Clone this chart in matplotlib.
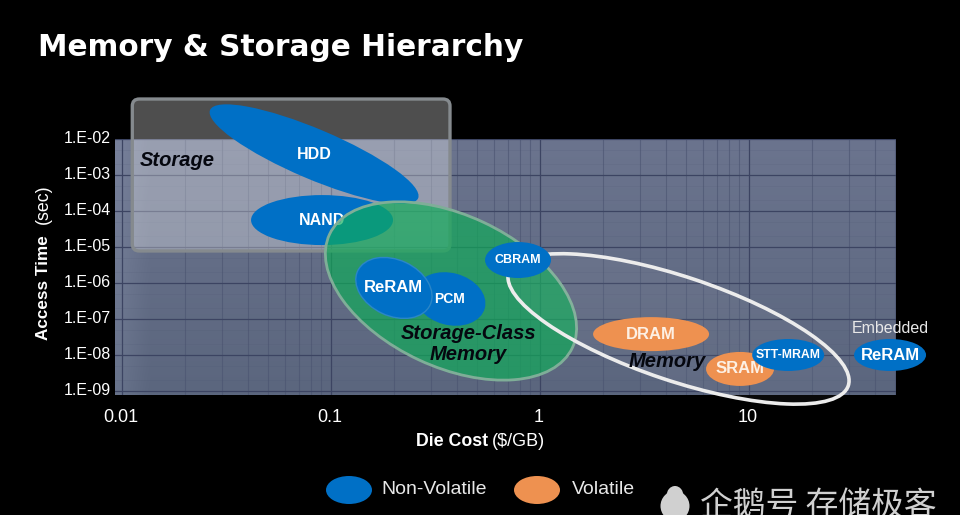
#!/usr/bin/env python3
"""Memory & storage hierarchy: access time vs. die cost, log-log bubbles."""
import numpy as np
import matplotlib
matplotlib.use("Agg")
import matplotlib.pyplot as plt
from matplotlib.patches import Ellipse, FancyBboxPatch
from matplotlib.ticker import LogLocator, NullFormatter
from matplotlib.transforms import IdentityTransform, ScaledTranslation

W, H = 960, 515
SANS = ["Liberation Sans", "DejaVu Sans"]
BLUE = "#0070c6"
ORANGE = "#ee9150"

x_ticks = [0.01, 0.1, 1, 10]
x_tick_labels = ["0.01", "0.1", "1", "10"]
y_ticks = [1e-2, 1e-3, 1e-4, 1e-5, 1e-6, 1e-7, 1e-8, 1e-9]
y_tick_labels = ["1.E-02", "1.E-03", "1.E-04", "1.E-05", "1.E-06", "1.E-07", "1.E-08", "1.E-09"]

# technologies: die cost ($/GB), access time (s)
nonvolatile = ["HDD", "NAND", "ReRAM", "PCM", "CBRAM", "STT-MRAM", "ReRAM"]
nonvolatile_cost = [0.083, 0.0906, 0.2, 0.371, 0.785, 15.4, 47.3]
nonvolatile_time = [3.8e-3, 5.6e-5, 7.3e-7, 3.6e-7, 4.35e-6, 1e-8, 1e-8]
volatile = ["DRAM", "SRAM"]
volatile_cost = [3.4, 9.06]
volatile_time = [3.8e-8, 4.1e-9]

# class regions
scm_cost, scm_time = 0.375, 6e-7
memory_cost, memory_time = 4.6, 5.3e-8
storage_cost = [0.0112, 0.371]
storage_time = [7.76e-6, 0.129]

# bubble shapes in pixels: half length, half height, tilt downwards (deg)
SHAPES = {"HDD": (113, 25, 23), "NAND": (71, 25, 0), "ReRAM": (40, 28, 25),
          "PCM": (36, 26, 15), "CBRAM": (33, 18, 0), "STT-MRAM": (36, 16, 0),
          "DRAM": (58, 17, 0), "SRAM": (34, 17, 0)}
EMBEDDED_SHAPE = (36, 16, 0)
LABEL_SIZE = {"HDD": 11.5, "NAND": 11.5, "ReRAM": 12, "PCM": 10, "CBRAM": 9,
              "STT-MRAM": 8.8, "DRAM": 12, "SRAM": 12}


def bubble(ax, cost, time, shape, zorder, **style):
    x, y = ax.transData.transform((cost, time))
    a, b, tilt = shape
    patch = Ellipse((x, y), 2 * a, 2 * b, angle=-tilt, transform=IdentityTransform(),
                    clip_on=False, zorder=zorder, **style)
    ax.add_patch(patch)
    return patch


def ftext(fig, x, y, s, **kw):
    kw.setdefault("family", SANS)
    kw.setdefault("color", "white")
    return fig.text(x / W, 1 - y / H, s, **kw)


def main():
    fig = plt.figure(figsize=(W / 100, H / 100), dpi=100, facecolor="black")
    ax = fig.add_axes([115 / W, 1 - 395 / H, (896 - 115) / W, (395 - 139) / H])
    ax.set_xscale("log")
    ax.set_yscale("log")

    # panel shading: lighter and bluer towards the left/top
    gy = np.linspace(0, 1, 60)
    gx = np.linspace(0, 1, 120)
    shade = np.ones((60, 120, 3))
    top, bottom = np.array([107, 116, 142]), np.array([91, 102, 126])
    for i, v in enumerate(gy):
        shade[i, :] = (top * (1 - v) + bottom * v) / 255
    shade[:, :, :] += (np.clip(1 - gx / 0.04, 0, 1) * 0.05)[None, :, None]
    ax.imshow(np.clip(shade, 0, 1), extent=(0, 1, 0, 1), transform=ax.transAxes,
              aspect="auto", interpolation="bilinear", zorder=0)

    ax.set_xlim(10 ** (-2 - 7 / 209), 10 ** (-2 + 774 / 209))
    ax.set_ylim(10 ** (-9 - 4 / 36), 1e-2)
    ax.set_xticks(x_ticks, x_tick_labels, family=SANS, fontsize=13, color="white")
    ax.set_yticks(y_ticks, y_tick_labels, family=SANS, fontsize=11.5, color="white")
    ax.xaxis.set_minor_locator(LogLocator(base=10, subs=range(2, 10), numticks=12))
    ax.yaxis.set_minor_locator(LogLocator(base=10, subs=[2, 5], numticks=12))
    ax.xaxis.set_minor_formatter(NullFormatter())
    ax.yaxis.set_minor_formatter(NullFormatter())
    ax.tick_params(which="both", length=0)
    ax.tick_params(axis="x", pad=10)
    ax.tick_params(axis="y", pad=3)
    # labels sit a little above their gridlines in the original
    lift = ScaledTranslation(0, 2 / 100, fig.dpi_scale_trans)
    for lbl in ax.get_yticklabels():
        lbl.set_transform(lbl.get_transform() + lift)
    nudge = ScaledTranslation(-1.5 / 100, 0, fig.dpi_scale_trans)
    for lbl in ax.get_xticklabels():
        lbl.set_transform(lbl.get_transform() + nudge)
    ax.grid(True, which="major", axis="both", color="#3c4462", lw=0.9)
    ax.grid(True, which="minor", axis="x", color="#4a5370", lw=0.8, alpha=0.6)
    ax.grid(True, which="minor", axis="y", color="#4a5370", lw=0.6, alpha=0.15)
    ax.set_axisbelow(True)
    for sp in ax.spines.values():
        sp.set_visible(False)

    # storage box, translucent white over panel and background
    (x0, y0), (x1, y1) = ax.transData.transform(
        [(storage_cost[0], storage_time[0]), (storage_cost[1], storage_time[1])])
    ax.add_patch(FancyBboxPatch((x0 + 6, y0 + 6), x1 - x0 - 12, y1 - y0 - 12,
                                boxstyle="round,pad=6,rounding_size=7",
                                transform=IdentityTransform(), clip_on=False, zorder=2,
                                facecolor=(1, 1, 1, 0.31), edgecolor="#858a8e", lw=2.4))

    # non-volatile bubbles, NAND sits under the green region
    for name, cost, time in zip(nonvolatile, nonvolatile_cost, nonvolatile_time):
        if name in ("HDD", "NAND"):
            bubble(ax, cost, time, SHAPES[name], 3, facecolor=BLUE, edgecolor="none")
            ax.text(cost, time, name, ha="center", va="center", family=SANS, weight="bold",
                    fontsize=LABEL_SIZE[name], color="white", zorder=3.5)

    bubble(ax, scm_cost, scm_time, (134, 76, 25), 4, facecolor=(0.06, 0.68, 0.35, 0.68),
           edgecolor="#7fae98", lw=2)
    bubble(ax, memory_cost, memory_time, (179, 52, 18.5), 5,
           facecolor=(1, 1, 1, 0.04), edgecolor="#ececec", lw=2.6)

    # PCM first so ReRAM overlaps it
    for idx in (3, 2, 4, 5, 6):
        name = nonvolatile[idx]
        cost, time = nonvolatile_cost[idx], nonvolatile_time[idx]
        shape = EMBEDDED_SHAPE if idx == 6 else SHAPES[name]
        zo = 7.5 if name == "STT-MRAM" else 6
        edge = "#2a86c8" if name == "ReRAM" and idx == 2 else "none"
        bubble(ax, cost, time, shape, zo, facecolor=BLUE, edgecolor=edge, lw=1)
        ax.text(cost, time, name, ha="center", va="center", family=SANS, weight="bold",
                fontsize=LABEL_SIZE[name], color="white", zorder=zo + 0.2, clip_on=False)
    for name, cost, time in zip(volatile, volatile_cost, volatile_time):
        bubble(ax, cost, time, SHAPES[name], 7, facecolor=ORANGE, edgecolor="none")
        ax.text(cost, time, name, ha="center", va="center", family=SANS, weight="bold",
                fontsize=LABEL_SIZE[name], color="#fdf0e4", zorder=7.2)

    # region names
    region = dict(family=SANS, weight="bold", style="italic", color="#05070f",
                  ha="center", va="center", fontsize=14.5, zorder=8)
    ax.text(0.0183, 2.6e-3, "Storage", **region)
    ax.text(0.453, 1.9e-8 * 1.05, "Storage-Class\nMemory", linespacing=1.1, **region)
    ax.text(4.05, 6.8e-9, "Memory", **region)
    ax.text(47.3, 5.6e-8, "Embedded", ha="center", va="center", family=SANS,
            fontsize=11.5, color="#e8e8e8", zorder=8, clip_on=False)

    ftext(fig, 38, 47, "Memory & Storage Hierarchy", family="DejaVu Sans", weight="bold",
          fontsize=21.3, va="center", ha="left")
    ftext(fig, 488, 441, "Die Cost", weight="bold", fontsize=12.8, ha="right", va="center")
    ftext(fig, 492, 441, "($/GB)", fontsize=13, ha="left", va="center")
    ftext(fig, 43, 340, "Access Time", weight="bold", fontsize=12.3, rotation=90,
          ha="center", va="bottom")
    ftext(fig, 43, 224, "(sec)", fontsize=12.8, rotation=90, ha="center", va="bottom")

    # legend
    for cx, color, label, tx in ((349, BLUE, "Non-Volatile", 381), (537, ORANGE, "Volatile", 572)):
        fig.add_artist(Ellipse((cx, H - 490), 46, 28, transform=IdentityTransform(),
                               facecolor=color, edgecolor="none"))
        ftext(fig, tx, 489, label, fontsize=14, ha="left", va="center", color="#e8e8e8")

    # watermark, cut by the bottom edge as in the original
    for cx, cy, w, h in ((675, 506, 29, 30), (675, 496, 17, 20)):
        fig.add_artist(Ellipse((cx, H - cy), w, h, transform=IdentityTransform(),
                               facecolor="#d0d0d0", edgecolor="none"))
    ftext(fig, 700, 506, "企鹅号 存储极客", family=["Noto Sans CJK SC", "DejaVu Sans"],
          fontsize=23.6, color="#d0d0d0", ha="left", va="center")

    fig.savefig("out.png", dpi=100, facecolor="black")
    plt.close(fig)


if __name__ == "__main__":
    main()
